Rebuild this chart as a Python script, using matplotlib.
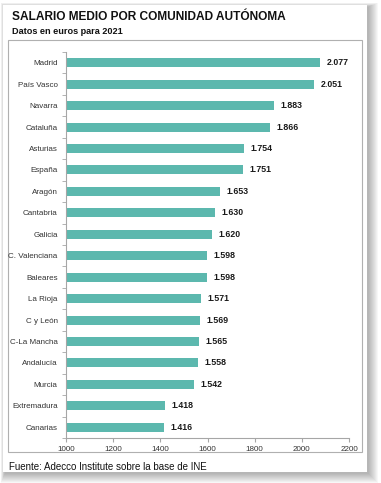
import numpy as np
import matplotlib.pyplot as plt
from matplotlib.patches import Rectangle
from matplotlib.ticker import MultipleLocator

plt.rcParams['font.family'] = ['Liberation Sans', 'DejaVu Sans']

regions = ["Madrid", "País Vasco", "Navarra", "Cataluña", "Asturias", "España",
           "Aragón", "Cantabria", "Galicia", "C. Valenciana", "Baleares", "La Rioja",
           "C y León", "C-La Mancha", "Andalucía", "Murcia", "Extremadura", "Canarias"]
salary = [2077, 2051, 1883, 1866, 1754, 1751, 1653, 1630, 1620, 1598, 1598, 1571,
          1569, 1565, 1558, 1542, 1418, 1416]
xticks = [1000, 1200, 1400, 1600, 1800, 2000, 2200]

bar_color = "#5cb8ae"
axis_color = "#a6a6a6"
W, H = 381, 483


def px_rect(x0, y0, x1, y1, **kw):
    # rectangle in pixel coords (origin top-left)
    return Rectangle((x0 / W, 1 - y1 / H), (x1 - x0) / W, (y1 - y0) / H,
                     transform=fig.transFigure, **kw)


fig = plt.figure(figsize=(W / 100, H / 100), dpi=100)

# card shadow
for i in range(10):
    d = 10 - i
    fig.patches.append(px_rect(3 - d * 0.4 + 2, 5 - d * 0.4 + 2, 367 + d + 1, 472 + d + 1,
                               facecolor="black", alpha=0.03, edgecolor="none", zorder=0))
fig.patches.append(px_rect(3, 5, 367, 472, facecolor="white", edgecolor="none", zorder=1))
fig.patches.append(px_rect(8, 40, 362, 452, facecolor="none", edgecolor="#b0b0b0",
                           linewidth=0.8, zorder=2))

ax = fig.add_axes([66 / W, 1 - 438 / H, (349 - 66) / W, (438 - 52) / H])
ax.set_zorder(3)
ax.patch.set_alpha(0)

y = np.arange(len(regions))
ax.barh(y, np.array(salary) - 1000, left=1000, height=0.42, color=bar_color)
for yi, v in zip(y, salary):
    ax.text(v + 28, yi, f"{v // 1000}.{v % 1000:03d}", va="center", ha="left",
            fontsize=6.3, fontweight="bold", color="#1a1a1a")

ax.set_xlim(1000, 2200)
ax.set_ylim(len(regions) - 0.5, -0.5)
ax.set_xticks(xticks)
ax.set_xticklabels([str(t) for t in xticks], fontsize=5.8, color="#333333")
ax.set_yticks(y)
ax.set_yticklabels(regions, fontsize=5.8, color="#333333")
ax.yaxis.set_minor_locator(MultipleLocator(1, offset=0.5))
ax.tick_params(axis="y", which="major", length=0, pad=6)
ax.tick_params(axis="y", which="minor", length=3, color=axis_color, direction="out")
ax.tick_params(axis="x", length=3, color=axis_color, pad=3)
for s in ["top", "right"]:
    ax.spines[s].set_visible(False)
for s in ["left", "bottom"]:
    ax.spines[s].set_color(axis_color)
    ax.spines[s].set_linewidth(0.8)

fig.text(12 / W, 1 - 17 / H, "SALARIO MEDIO POR COMUNIDAD AUTÓNOMA", fontsize=8.6,
         fontweight="bold", va="center", ha="left", color="#111111")
fig.text(12 / W, 1 - 31 / H, "Datos en euros para 2021", fontsize=6.6,
         fontweight="bold", va="center", ha="left", color="#111111")
fig.text(9 / W, 1 - 467 / H, "Fuente: Adecco Institute sobre la base de INE", fontsize=7,
         va="center", ha="left", color="#111111")

fig.savefig("out.png", dpi=100)
